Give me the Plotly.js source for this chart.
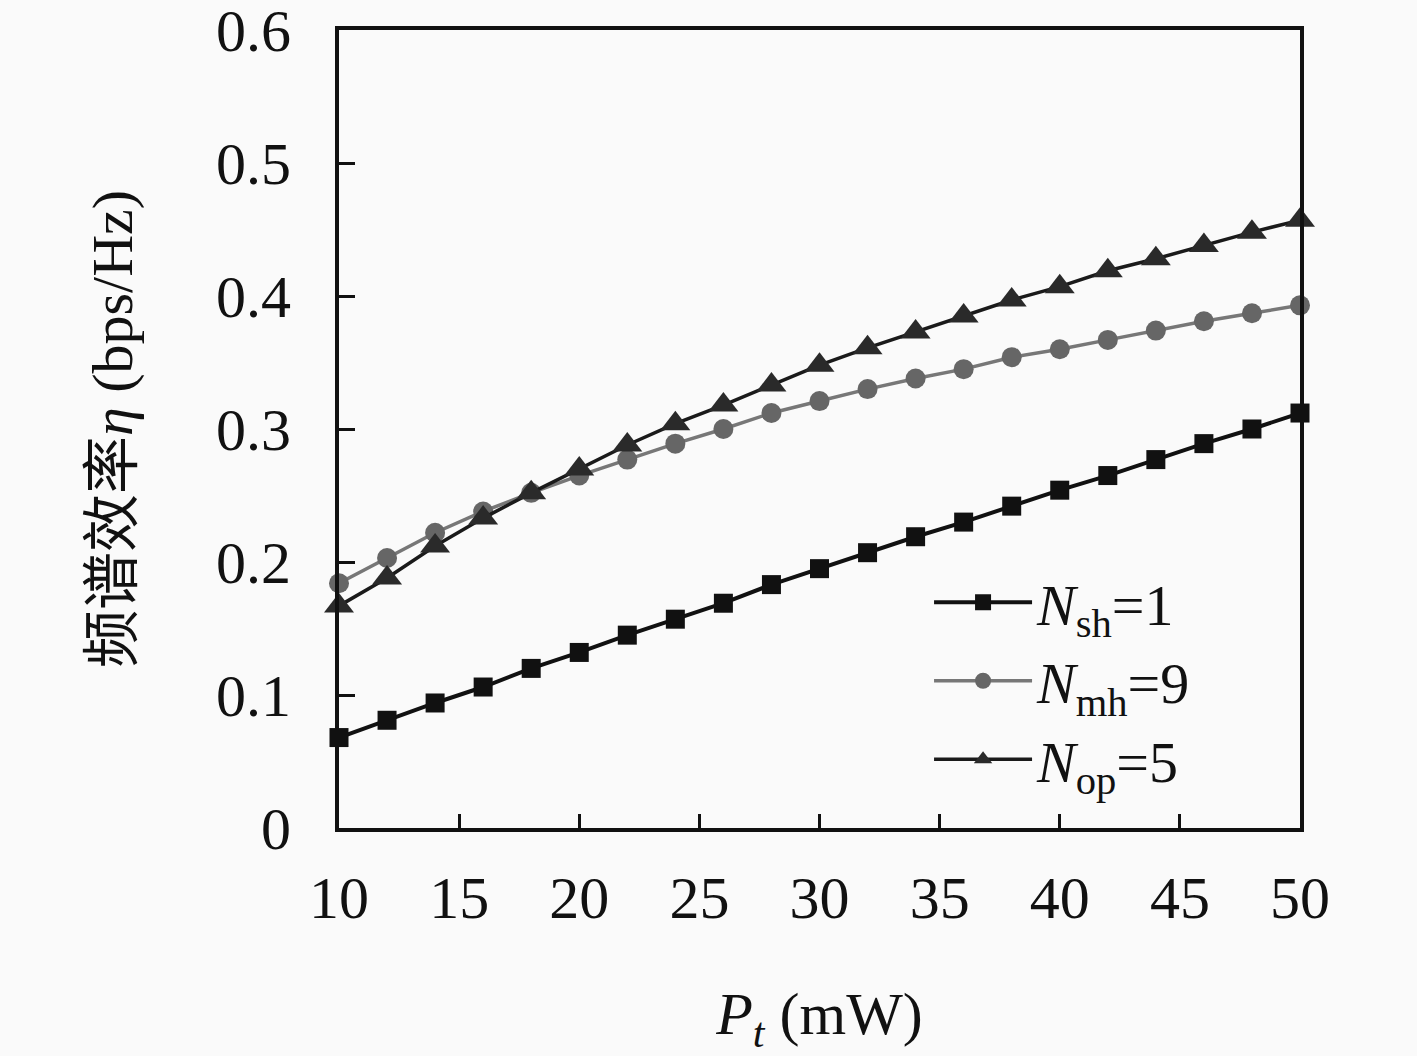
<!DOCTYPE html>
<html>
<head>
<meta charset="utf-8">
<script src="https://cdn.plot.ly/plotly-3.0.1.min.js"></script>
<style>
  body { margin: 0; background: #fafafa; }
  #grafico { width: 1417px; height: 1056px; }
</style>
</head>
<body>
<div id="grafico"></div>
<script>
// transmit power Pt (mW)
var powerMW = [10, 12, 14, 16, 18, 20, 22, 24, 26, 28, 30, 32, 34, 36, 38, 40, 42, 44, 46, 48, 50];

// spectral efficiency (bps/Hz)
var effSh = [0.068, 0.081, 0.094, 0.106, 0.120, 0.132, 0.145, 0.157, 0.169, 0.183, 0.195,
             0.207, 0.219, 0.230, 0.242, 0.254, 0.265, 0.277, 0.289, 0.300, 0.312];
var effMh = [0.184, 0.203, 0.222, 0.238, 0.252, 0.265, 0.277, 0.289, 0.300, 0.312, 0.321,
             0.330, 0.338, 0.345, 0.354, 0.360, 0.367, 0.374, 0.381, 0.387, 0.393];
var effOp = [0.167, 0.188, 0.212, 0.233, 0.252, 0.270, 0.288, 0.304, 0.318, 0.333, 0.348,
             0.361, 0.373, 0.385, 0.397, 0.407, 0.419, 0.428, 0.438, 0.448, 0.457];

var xTicks = [10, 15, 20, 25, 30, 35, 40, 45, 50];
var yTicks = [0, 0.1, 0.2, 0.3, 0.4, 0.5, 0.6];

var serif = '"Liberation Serif", "Noto Sans CJK SC", serif';

var traceSh = {
  x: powerMW, y: effSh, name: '<i>N</i><sub>sh</sub>=1',
  type: 'scatter', mode: 'lines+markers', cliponaxis: false,
  line: {color: '#111111', width: 4},
  marker: {symbol: 'square', size: 19, color: '#111111'}
};

var traceMh = {
  x: powerMW, y: effMh, name: '<i>N</i><sub>mh</sub>=9',
  type: 'scatter', mode: 'lines+markers', cliponaxis: false,
  line: {color: '#777777', width: 3.5},
  marker: {symbol: 'circle', size: 20, color: '#666666'}
};

var traceOp = {
  x: powerMW, y: effOp, name: '<i>N</i><sub>op</sub>=5',
  type: 'scatter', mode: 'lines+markers', cliponaxis: false,
  line: {color: '#1a1a1a', width: 3.5},
  marker: {symbol: 'triangle-up', size: 26, color: '#2a2a2a'}
};

var layout = {
  width: 1417, height: 1056,
  paper_bgcolor: '#fafafa', plot_bgcolor: '#fafafa',
  margin: {l: 339, r: 117, t: 30, b: 228},
  font: {family: serif, size: 60, color: '#111111'},
  showlegend: true,
  legend: {
    x: 0.614, y: 0.184, xanchor: 'left', yanchor: 'middle',
    bgcolor: 'rgba(0,0,0,0)', borderwidth: 0,
    font: {family: serif, size: 58, color: '#111111'},
    itemwidth: 98, tracegroupgap: 0
  },
  xaxis: {
    range: [10, 50], tickvals: xTicks, ticktext: xTicks.map(String),
    showline: true, mirror: true, linecolor: '#111111', linewidth: 4,
    ticks: 'inside', ticklen: 14, tickwidth: 3, tickcolor: '#111111',
    ticklabelstandoff: 14, ticklabeloverflow: 'allow',
    showgrid: false, zeroline: false,
    tickfont: {family: serif, size: 60},
    title: {text: '<i>P</i><sub><i>t</i></sub> (mW)', standoff: 68,
            font: {family: serif, size: 60}}
  },
  yaxis: {
    range: [0, 0.6], tickvals: yTicks, ticktext: ['0', '0.1', '0.2', '0.3', '0.4', '0.5', '0.6'],
    showline: true, mirror: true, linecolor: '#111111', linewidth: 4,
    ticks: 'inside', ticklen: 16, tickwidth: 3, tickcolor: '#111111',
    ticklabelstandoff: 32, ticklabeloverflow: 'allow',
    showgrid: false, zeroline: false,
    tickfont: {family: serif, size: 60},
    title: {text: '频谱效率<i>η</i> (bps/Hz)', standoff: 66,
            font: {family: serif, size: 58}}
  }
};

Plotly.newPlot('grafico', [traceSh, traceMh, traceOp], layout, {staticPlot: true});
</script>
</body>
</html>
